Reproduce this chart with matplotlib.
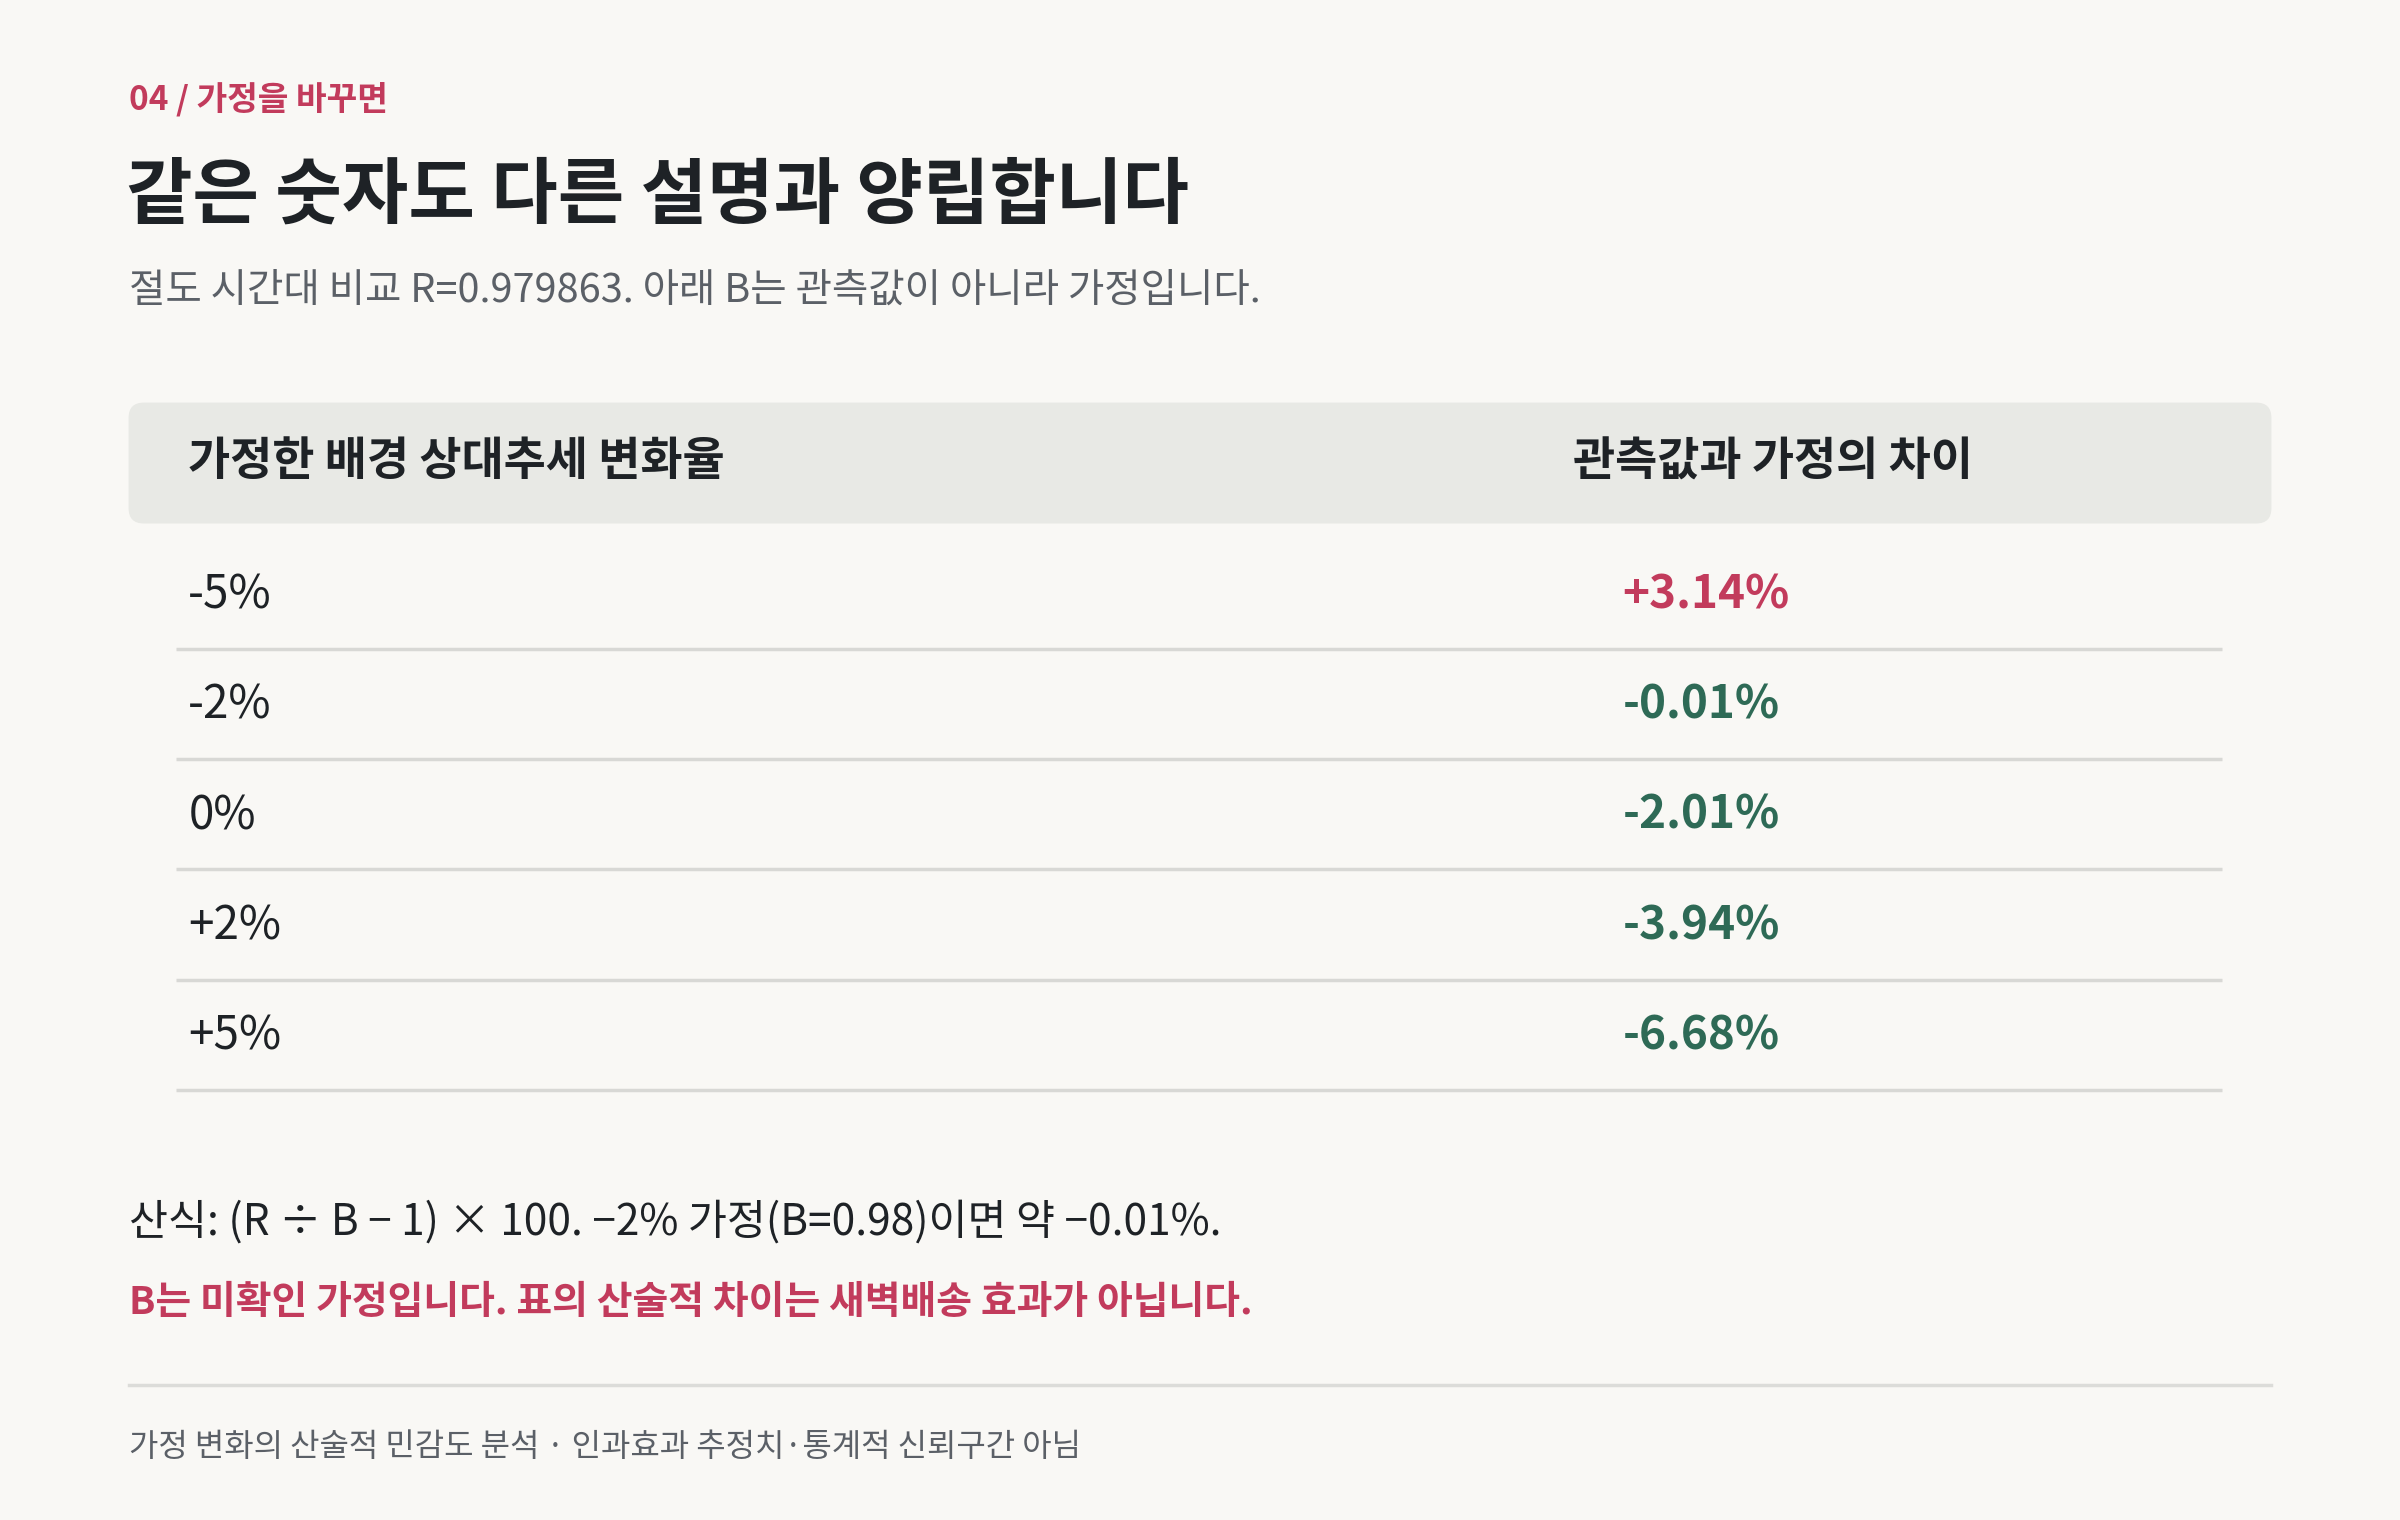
import matplotlib.pyplot as plt
from matplotlib.patches import FancyBboxPatch

plt.rcParams['font.family'] = ['Noto Sans CJK KR', 'DejaVu Sans']

# ---- data ----
kicker = '04 / 가정을 바꾸면'
title = '같은 숫자도 다른 설명과 양립합니다'
subtitle = '절도 시간대 비교 R=0.979863. 아래 B는 관측값이 아니라 가정입니다.'
col_headers = ['가정한 배경 상대추세 변화율', '관측값과 가정의 차이']
assumptions = ['-5%', '-2%', '0%', '+2%', '+5%']
differences = [3.14, -0.01, -2.01, -3.94, -6.68]
formula = '산식: (R ÷ B − 1) × 100. −2% 가정(B=0.98)이면 약 −0.01%.'
warning = 'B는 미확인 가정입니다. 표의 산술적 차이는 새벽배송 효과가 아닙니다.'
footer = '가정 변화의 산술적 민감도 분석 · 인과효과 추정치·통계적 신뢰구간 아님'

BG = '#f9f8f5'
RED = '#c23b5c'
GREEN = '#2e6a56'
DARK = '#1e2226'
GRAY = '#5b6067'

fig = plt.figure(figsize=(24, 15.2), dpi=100, facecolor=BG)
ax = fig.add_axes([0, 0, 1, 1])
ax.set_xlim(0, 1568)
ax.set_ylim(993, 0)
ax.axis('off')

ax.text(84, 65, kicker, color=RED, fontsize=24, fontweight='bold', va='center')
ax.text(82, 128, title, color=DARK, fontsize=52, fontweight='bold', va='center')
ax.text(84, 190, subtitle, color=GRAY, fontsize=28.5, va='center')

# header band
ax.add_patch(FancyBboxPatch((84, 263), 1400, 79, boxstyle='round,pad=0,rounding_size=10',
                            facecolor='#e8e9e5', edgecolor='none'))
ax.text(123, 302, col_headers[0], color=DARK, fontsize=33, fontweight='bold', va='center')
ax.text(1028, 302, col_headers[1], color=DARK, fontsize=33, fontweight='bold', va='center')

# rows
row_h = 72
for i, (a, d) in enumerate(zip(assumptions, differences)):
    y = 389 + i * row_h
    ax.text(123, y, a, color=DARK, fontsize=33, va='center')
    ax.text(1060, y, f'{d:+.2f}%', color=RED if d > 0 else GREEN,
            fontsize=33, fontweight='bold', va='center')
    ax.plot([115, 1452], [y + 35, y + 35], color='#d8d8d5', lw=2.5, solid_capstyle='butt')

ax.text(84, 799, formula, color=DARK, fontsize=30.5, va='center')
ax.text(84, 851, warning, color=RED, fontsize=28, fontweight='bold', va='center')
ax.plot([84, 1484], [905, 905], color='#dcdcd9', lw=2.5)
ax.text(84, 945, footer, color=GRAY, fontsize=23, va='center')

fig.savefig('out.png', dpi=100, facecolor=BG)
